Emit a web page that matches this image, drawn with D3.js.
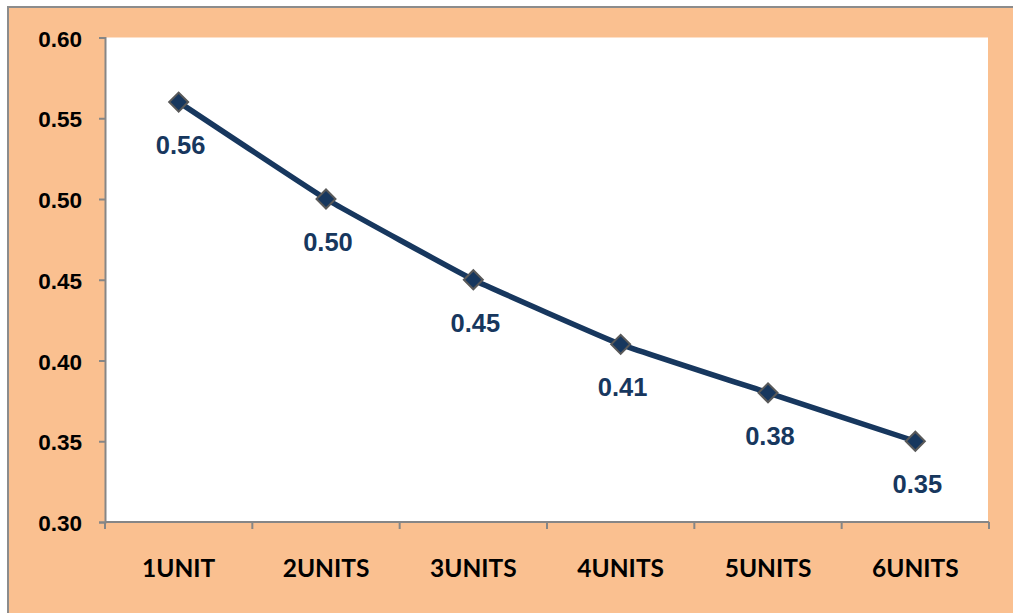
<!DOCTYPE html>
<html>
<head>
<meta charset="utf-8">
<script src="https://cdn.jsdelivr.net/npm/d3@7"></script>
<style>
  html, body { margin: 0; padding: 0; background: #ffffff; }
  svg { display: block; }
</style>
</head>
<body>
<svg id="chart" width="1013" height="613"></svg>
<script>
// ---- data ----
const categories = ["1UNIT", "2UNITS", "3UNITS", "4UNITS", "5UNITS", "6UNITS"];
const values = [0.56, 0.50, 0.45, 0.41, 0.38, 0.35];
const yTicks = [0.30, 0.35, 0.40, 0.45, 0.50, 0.55, 0.60];

// ---- layout ----
const W = 1013, H = 613;
const plot = { left: 105, top: 37.5, right: 989, bottom: 522 };
const peach = "#FAC090";
const navy = "#17375E";
const axisGray = "#868686";

const svg = d3.select("#chart");

// chart area background with border
svg.append("rect")
  .attr("x", 8).attr("y", 7)
  .attr("width", W + 20).attr("height", H + 20)
  .attr("fill", peach)
  .attr("stroke", "#8c8c8c").attr("stroke-width", 2);

// plot area
svg.append("rect")
  .attr("x", plot.left).attr("y", plot.top)
  .attr("width", plot.right - plot.left - 1).attr("height", plot.bottom - plot.top)
  .attr("fill", "#ffffff");

const x = d3.scaleBand().domain(categories).range([plot.left, plot.right]).padding(0);
const y = d3.scaleLinear().domain([0.30, 0.60]).range([plot.bottom, plot.top]);

// Y axis
const yAxis = svg.append("g")
  .attr("transform", `translate(${plot.left},0)`)
  .call(d3.axisLeft(y).tickValues(yTicks).tickFormat(d3.format(".2f")).tickSize(6).tickPadding(17));
yAxis.select(".domain").attr("stroke", axisGray).attr("stroke-width", 2);
yAxis.selectAll(".tick line").attr("stroke", axisGray).attr("stroke-width", 2);
yAxis.selectAll(".tick text")
  .attr("fill", "#000")
  .attr("dy", "0.38em")
  .style("font-family", "'Liberation Sans', Arial, sans-serif")
  .style("font-weight", "bold")
  .style("font-size", "22.5px");

// X axis
const xAxis = svg.append("g")
  .attr("transform", `translate(0,${plot.bottom})`)
  .call(d3.axisBottom(x).tickSize(0).tickPadding(0));
xAxis.select(".domain").remove();
xAxis.append("line")
  .attr("x1", plot.left).attr("x2", plot.right)
  .attr("y1", 0).attr("y2", 0)
  .attr("stroke", axisGray).attr("stroke-width", 2);
// category boundary ticks
const boundaries = categories.map(c => x(c)).concat([x(categories[categories.length - 1]) + x.bandwidth()]);
xAxis.selectAll(".bnd").data(boundaries).enter().append("line")
  .attr("class", "bnd")
  .attr("x1", d => d).attr("x2", d => d)
  .attr("y1", 0).attr("y2", 7)
  .attr("stroke", axisGray).attr("stroke-width", 2);
xAxis.selectAll(".tick text")
  .attr("fill", "#000")
  .attr("dy", null)
  .attr("y", 55)
  .style("font-family", "Lato, 'Open Sans', sans-serif")
  .style("font-weight", "bold")
  .style("font-size", "24.5px");

// line
const cx = d => x(d.cat) + x.bandwidth() / 2;
const pts = categories.map((c, i) => ({ cat: c, v: values[i] }));
const line = d3.line().x(cx).y(d => y(d.v)).curve(d3.curveCardinal.tension(0.7));
svg.append("path")
  .datum(pts)
  .attr("d", line)
  .attr("fill", "none")
  .attr("stroke", navy)
  .attr("stroke-width", 5.5)
  .attr("stroke-linejoin", "round");

// markers
const sym = d3.symbol().type(d3.symbolSquare).size(180);
svg.selectAll(".mk").data(pts).enter().append("path")
  .attr("class", "mk")
  .attr("d", sym)
  .attr("transform", d => `translate(${cx(d)},${y(d.v)}) rotate(45)`)
  .attr("fill", navy)
  .attr("stroke", "#595959")
  .attr("stroke-width", 2);

// data labels
svg.selectAll(".lbl").data(pts).enter().append("text")
  .attr("class", "lbl")
  .attr("x", d => cx(d) + 2)
  .attr("y", d => y(d.v) + 52)
  .attr("text-anchor", "middle")
  .attr("fill", navy)
  .style("font-family", "'Liberation Sans', Arial, sans-serif")
  .style("font-weight", "bold")
  .style("font-size", "25.5px")
  .text(d => d3.format(".2f")(d.v));
</script>
</body>
</html>
